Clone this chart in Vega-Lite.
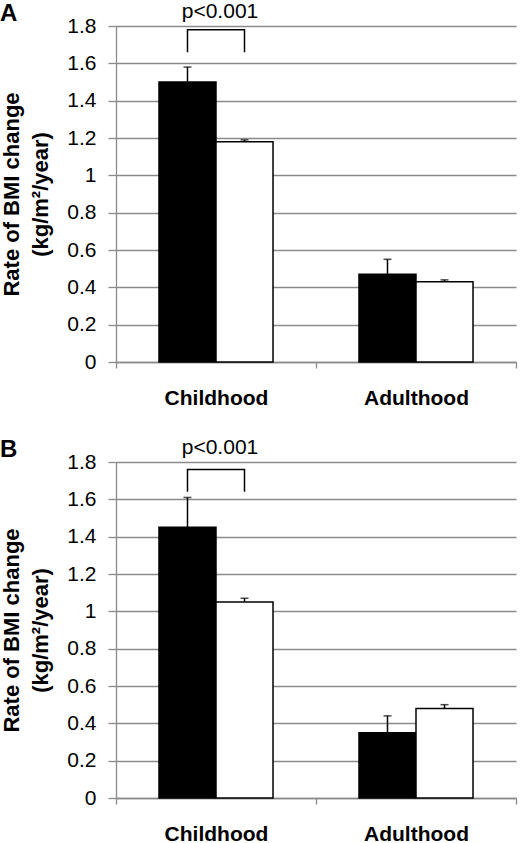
{
  "$schema": "https://vega.github.io/schema/vega-lite/v6.json",
  "background": "white",
  "padding": {"left": 0, "top": 0, "right": 2, "bottom": 0},
  "bounds": "flush",
  "spacing": 100,
  "config": {
    "font": "Liberation Sans",
    "view": {"stroke": null},
    "axis": {
      "domainColor": "#8a8a8a",
      "domainWidth": 1.3,
      "tickColor": "#8a8a8a",
      "tickWidth": 1.3,
      "gridColor": "#8a8a8a",
      "gridWidth": 1.3,
      "labelColor": "black",
      "titleColor": "black"
    },
    "axisY": {
      "tickCount": 9,
      "format": "~g",
      "labelFontSize": 21,
      "labelOverlap": false,
      "tickSize": 8,
      "labelPadding": 12,
      "grid": true,
      "titleFontSize": 22,
      "titleFontWeight": "bold",
      "titleLineHeight": 29,
      "titlePadding": 14
    },
    "axisX": {
      "labelAngle": 0,
      "tickBand": "extent",
      "tickSize": 6,
      "labelFontSize": 21,
      "labelFontWeight": "bold",
      "labelPadding": 19,
      "grid": false
    },
    "title": {"anchor": "start", "frame": "group", "dx": -116, "dy": 29, "fontSize": 24, "fontWeight": "bold", "color": "black", "offset": 0, "baseline": "alphabetic"}
  },
  "datasets": {
    "bars": [
      {"panel": "A", "group": "Childhood", "series": "filled", "value": 1.50, "upper": 1.58},
      {"panel": "A", "group": "Childhood", "series": "open", "value": 1.18, "upper": 1.19},
      {"panel": "A", "group": "Adulthood", "series": "filled", "value": 0.47, "upper": 0.55},
      {"panel": "A", "group": "Adulthood", "series": "open", "value": 0.43, "upper": 0.44},
      {"panel": "B", "group": "Childhood", "series": "filled", "value": 1.45, "upper": 1.61},
      {"panel": "B", "group": "Childhood", "series": "open", "value": 1.05, "upper": 1.07},
      {"panel": "B", "group": "Adulthood", "series": "filled", "value": 0.35, "upper": 0.44},
      {"panel": "B", "group": "Adulthood", "series": "open", "value": 0.48, "upper": 0.50}
    ],
    "bracket": [
      {"panel": "A", "group": "Childhood", "series": "filled", "y": 1.66, "ord": 1},
      {"panel": "A", "group": "Childhood", "series": "filled", "y": 1.78, "ord": 2},
      {"panel": "A", "group": "Childhood", "series": "open", "y": 1.78, "ord": 3},
      {"panel": "A", "group": "Childhood", "series": "open", "y": 1.66, "ord": 4},
      {"panel": "B", "group": "Childhood", "series": "filled", "y": 1.64, "ord": 1},
      {"panel": "B", "group": "Childhood", "series": "filled", "y": 1.76, "ord": 2},
      {"panel": "B", "group": "Childhood", "series": "open", "y": 1.76, "ord": 3},
      {"panel": "B", "group": "Childhood", "series": "open", "y": 1.64, "ord": 4}
    ],
    "pvalue": [
      {"panel": "A", "group": "Childhood", "y": 1.875, "label": "p<0.001"},
      {"panel": "B", "group": "Childhood", "y": 1.875, "label": "p<0.001"}
    ]
  },
  "vconcat": [
    {
      "width": 400,
      "height": 336,
      "title": "A",
      "layer": [
        {
          "data": {"name": "bars"},
          "transform": [{"filter": "datum.panel === 'A'"}],
          "mark": {"type": "bar", "stroke": "black", "strokeWidth": 1.5},
          "encoding": {
            "x": {"field": "group", "type": "nominal", "sort": ["Childhood", "Adulthood"], "title": null,
              "scale": {"paddingInner": 0, "paddingOuter": 0}},
            "xOffset": {"field": "series", "type": "nominal", "sort": ["filled", "open"], "scale": {"paddingInner": 0, "paddingOuter": 0.754}},
            "y": {"field": "value", "type": "quantitative", "scale": {"domain": [0, 1.8], "nice": false},
              "title": ["Rate of BMI change", "(kg/m²/year)"]},
            "fill": {"field": "series", "type": "nominal", "scale": {"domain": ["filled", "open"], "range": ["black", "white"]}, "legend": null}
          }
        },
        {
          "data": {"name": "bars"},
          "transform": [{"filter": "datum.panel === 'A'"}],
          "mark": {"type": "rule", "color": "black", "strokeWidth": 1.5},
          "encoding": {
            "x": {"field": "group", "type": "nominal", "sort": ["Childhood", "Adulthood"]},
            "xOffset": {"field": "series", "type": "nominal", "sort": ["filled", "open"]},
            "y": {"field": "value", "type": "quantitative"},
            "y2": {"field": "upper"}
          }
        },
        {
          "data": {"name": "bars"},
          "transform": [{"filter": "datum.panel === 'A'"}],
          "mark": {"type": "tick", "color": "black", "size": 8, "thickness": 1.5, "orient": "horizontal"},
          "encoding": {
            "x": {"field": "group", "type": "nominal", "sort": ["Childhood", "Adulthood"]},
            "xOffset": {"field": "series", "type": "nominal", "sort": ["filled", "open"]},
            "y": {"field": "upper", "type": "quantitative"}
          }
        },
        {
          "data": {"name": "bracket"},
          "transform": [{"filter": "datum.panel === 'A'"}],
          "mark": {"type": "line", "color": "black", "strokeWidth": 1.5},
          "encoding": {
            "x": {"field": "group", "type": "nominal", "sort": ["Childhood", "Adulthood"]},
            "xOffset": {"field": "series", "type": "nominal", "sort": ["filled", "open"]},
            "y": {"field": "y", "type": "quantitative"},
            "order": {"field": "ord", "type": "quantitative"}
          }
        },
        {
          "data": {"name": "pvalue"},
          "transform": [{"filter": "datum.panel === 'A'"}],
          "mark": {"type": "text", "fontSize": 21, "color": "black", "baseline": "middle", "dx": 4},
          "encoding": {
            "x": {"field": "group", "type": "nominal", "sort": ["Childhood", "Adulthood"]},
            "y": {"field": "y", "type": "quantitative"},
            "text": {"field": "label"}
          }
        }
      ]
    },
    {
      "width": 400,
      "height": 336,
      "title": "B",
      "layer": [
        {
          "data": {"name": "bars"},
          "transform": [{"filter": "datum.panel === 'B'"}],
          "mark": {"type": "bar", "stroke": "black", "strokeWidth": 1.5},
          "encoding": {
            "x": {"field": "group", "type": "nominal", "sort": ["Childhood", "Adulthood"], "title": null,
              "scale": {"paddingInner": 0, "paddingOuter": 0}},
            "xOffset": {"field": "series", "type": "nominal", "sort": ["filled", "open"], "scale": {"paddingInner": 0, "paddingOuter": 0.754}},
            "y": {"field": "value", "type": "quantitative", "scale": {"domain": [0, 1.8], "nice": false},
              "title": ["Rate of BMI change", "(kg/m²/year)"]},
            "fill": {"field": "series", "type": "nominal", "scale": {"domain": ["filled", "open"], "range": ["black", "white"]}, "legend": null}
          }
        },
        {
          "data": {"name": "bars"},
          "transform": [{"filter": "datum.panel === 'B'"}],
          "mark": {"type": "rule", "color": "black", "strokeWidth": 1.5},
          "encoding": {
            "x": {"field": "group", "type": "nominal", "sort": ["Childhood", "Adulthood"]},
            "xOffset": {"field": "series", "type": "nominal", "sort": ["filled", "open"]},
            "y": {"field": "value", "type": "quantitative"},
            "y2": {"field": "upper"}
          }
        },
        {
          "data": {"name": "bars"},
          "transform": [{"filter": "datum.panel === 'B'"}],
          "mark": {"type": "tick", "color": "black", "size": 8, "thickness": 1.5, "orient": "horizontal"},
          "encoding": {
            "x": {"field": "group", "type": "nominal", "sort": ["Childhood", "Adulthood"]},
            "xOffset": {"field": "series", "type": "nominal", "sort": ["filled", "open"]},
            "y": {"field": "upper", "type": "quantitative"}
          }
        },
        {
          "data": {"name": "bracket"},
          "transform": [{"filter": "datum.panel === 'B'"}],
          "mark": {"type": "line", "color": "black", "strokeWidth": 1.5},
          "encoding": {
            "x": {"field": "group", "type": "nominal", "sort": ["Childhood", "Adulthood"]},
            "xOffset": {"field": "series", "type": "nominal", "sort": ["filled", "open"]},
            "y": {"field": "y", "type": "quantitative"},
            "order": {"field": "ord", "type": "quantitative"}
          }
        },
        {
          "data": {"name": "pvalue"},
          "transform": [{"filter": "datum.panel === 'B'"}],
          "mark": {"type": "text", "fontSize": 21, "color": "black", "baseline": "middle", "dx": 4},
          "encoding": {
            "x": {"field": "group", "type": "nominal", "sort": ["Childhood", "Adulthood"]},
            "y": {"field": "y", "type": "quantitative"},
            "text": {"field": "label"}
          }
        }
      ]
    }
  ]
}
